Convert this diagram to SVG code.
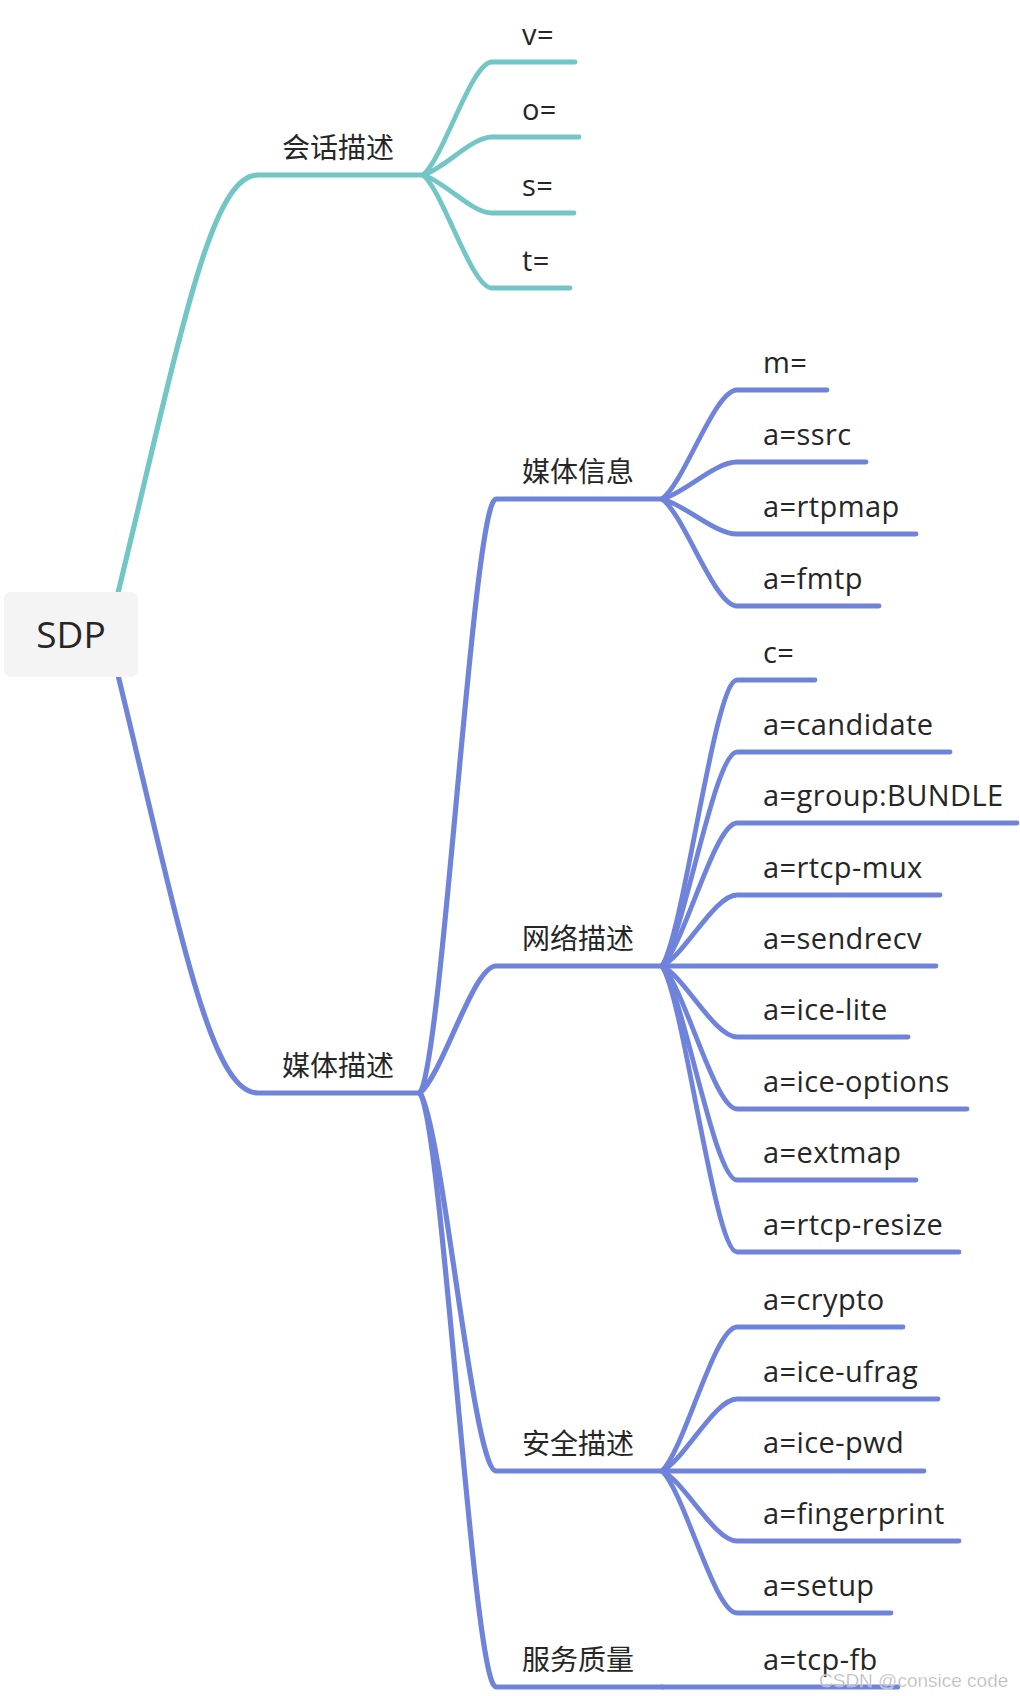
<svg xmlns="http://www.w3.org/2000/svg" width="1020" height="1696" viewBox="0 0 1020 1696">
<style>
.t{stroke:#72C6C6;fill:none;stroke-linecap:round;stroke-linejoin:round}
.b{stroke:#6F83DB;fill:none;stroke-linecap:round;stroke-linejoin:round}
.br{stroke-width:5.2}
.lf{stroke-width:4.8}
.lt{font-family:"Open Sans","Noto Sans",sans-serif;font-size:29px;fill:#262626;letter-spacing:0.4px}
.cj{font-family:"Noto Sans CJK SC","Noto Sans",sans-serif;font-size:28px;fill:#262626}
</style>
<rect width="1020" height="1696" fill="#ffffff"/>
<g id="connectors">
  <path class="t br" d="M108 634 C178 350 208 175 258 175 H423"/>
  <path class="b br" d="M108 634 C178 918 208 1093 258 1093 H420"/>
  <path class="t lf" d="M423 175 C443.7 158 471.3 62 492 62 H575"/>
  <path class="t lf" d="M423 175 C443.7 169.3 471.3 137 492 137 H579"/>
  <path class="t lf" d="M423 175 C443.7 180.7 471.3 213 492 213 H574"/>
  <path class="t lf" d="M423 175 C443.7 192 471.3 288 492 288 H570"/>
  <path class="b br" d="M420 1093 C442.8 1058 473.2 499 496 499 H662"/>
  <path class="b br" d="M420 1093 C442.8 1074 473.2 966 496 966 H662"/>
  <path class="b br" d="M420 1093 C442.8 1128 473.2 1471 496 1471 H662"/>
  <path class="b br" d="M420 1093 C442.8 1128 473.2 1687 496 1687 H662"/>
  <path class="b lf" d="M662 499 C684.5 482.65 714.5 390 737 390 H827"/>
  <path class="b lf" d="M662 499 C684.5 493.45 714.5 462 737 462 H866"/>
  <path class="b lf" d="M662 499 C684.5 504.25 714.5 534 737 534 H916"/>
  <path class="b lf" d="M662 499 C684.5 515.05 714.5 606 737 606 H879"/>
  <path class="b lf" d="M662 966 C684.5 931 714.5 680 737 680 H815"/>
  <path class="b lf" d="M662 966 C684.5 933.9 714.5 752 737 752 H950"/>
  <path class="b lf" d="M662 966 C684.5 944.55 714.5 823 737 823 H1017"/>
  <path class="b lf" d="M662 966 C684.5 955.35 714.5 895 737 895 H940"/>
  <path class="b lf" d="M662 966 H936"/>
  <path class="b lf" d="M662 966 C684.5 976.65 714.5 1037 737 1037 H908"/>
  <path class="b lf" d="M662 966 C684.5 987.45 714.5 1109 737 1109 H967"/>
  <path class="b lf" d="M662 966 C684.5 998.1 714.5 1180 737 1180 H916"/>
  <path class="b lf" d="M662 966 C684.5 1001 714.5 1252 737 1252 H959"/>
  <path class="b lf" d="M662 1471 C684.5 1449.4 714.5 1327 737 1327 H903"/>
  <path class="b lf" d="M662 1471 C684.5 1460.2 714.5 1399 737 1399 H938"/>
  <path class="b lf" d="M662 1471 H924"/>
  <path class="b lf" d="M662 1471 C684.5 1481.5 714.5 1541 737 1541 H959"/>
  <path class="b lf" d="M662 1471 C684.5 1492.3 714.5 1613 737 1613 H891"/>
  <path class="b lf" d="M662 1687 H898"/>
</g>
<g id="root">
  <rect x="4" y="592" width="134" height="85" rx="7" fill="#F4F4F4"/>
  <text x="71" y="648" text-anchor="middle" font-family="Open Sans, Noto Sans, sans-serif" font-size="37" fill="#262626">SDP</text>
</g>
<g id="session"><text class="cj" x="282" y="158">会话描述</text></g>
<g id="v"><text class="lt" x="522" y="45">v=</text></g>
<g id="o"><text class="lt" x="522" y="120">o=</text></g>
<g id="s"><text class="lt" x="522" y="196">s=</text></g>
<g id="t"><text class="lt" x="522" y="271">t=</text></g>
<g id="media"><text class="cj" x="282" y="1076">媒体描述</text></g>
<g id="mediainfo"><text class="cj" x="522" y="482">媒体信息</text></g>
<g id="network"><text class="cj" x="522" y="949">网络描述</text></g>
<g id="security"><text class="cj" x="522" y="1454">安全描述</text></g>
<g id="qos"><text class="cj" x="522" y="1670">服务质量</text></g>
<g id="m"><text class="lt" x="763" y="373">m=</text></g>
<g id="ssrc"><text class="lt" x="763" y="445">a=ssrc</text></g>
<g id="rtpmap"><text class="lt" x="763" y="517">a=rtpmap</text></g>
<g id="fmtp"><text class="lt" x="763" y="589">a=fmtp</text></g>
<g id="c"><text class="lt" x="763" y="663">c=</text></g>
<g id="candidate"><text class="lt" x="763" y="735">a=candidate</text></g>
<g id="group"><text class="lt" x="763" y="806">a=group:BUNDLE</text></g>
<g id="rtcpmux"><text class="lt" x="763" y="878">a=rtcp-mux</text></g>
<g id="sendrecv"><text class="lt" x="763" y="949">a=sendrecv</text></g>
<g id="icelite"><text class="lt" x="763" y="1020">a=ice-lite</text></g>
<g id="iceoptions"><text class="lt" x="763" y="1092">a=ice-options</text></g>
<g id="extmap"><text class="lt" x="763" y="1163">a=extmap</text></g>
<g id="rtcpresize"><text class="lt" x="763" y="1235">a=rtcp-resize</text></g>
<g id="crypto"><text class="lt" x="763" y="1310">a=crypto</text></g>
<g id="iceufrag"><text class="lt" x="763" y="1382">a=ice-ufrag</text></g>
<g id="icepwd"><text class="lt" x="763" y="1453">a=ice-pwd</text></g>
<g id="fingerprint"><text class="lt" x="763" y="1524">a=fingerprint</text></g>
<g id="setup"><text class="lt" x="763" y="1596">a=setup</text></g>
<g id="tcpfb"><text class="lt" x="763" y="1670">a=tcp-fb</text></g>
<text x="819" y="1687" font-family="Liberation Sans, Arial, sans-serif" font-size="19" fill="#A8A8A8" fill-opacity="0.85" stroke="#ffffff" stroke-width="0.6" stroke-opacity="0.6">CSDN @consice code</text>
</svg>
